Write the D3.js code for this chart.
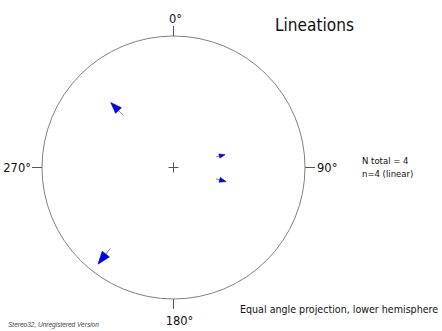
<!DOCTYPE html>
<html><head><meta charset="utf-8">
<script src="https://cdn.jsdelivr.net/npm/d3@7"></script>
<style>body{margin:0;background:#fff;}svg{display:block;}</style>
</head><body>
<svg id="c" width="442" height="331"></svg>
<script>
// ---- data ----
const trend = [316, 76, 105, 218];        // lineation trend (deg)
const plunge = [32, 53, 53, 14];          // plunge at arrow tail (deg)
const tipPlunge = [21, 46, 45, 4];        // plunge at arrow tip (deg)
const dirAngles = [0, 90, 180, 270];
const dirLabels = ["0°", "90°", "180°", "270°"];
const title = "Lineations";
const statLines = ["N total = 4", "n=4 (linear)"];
const footer = "Equal angle projection, lower hemisphere";
const credit = "Stereo32, Unregistered Version";

// ---- layout ----
const cx = 173.5, cy = 167.5, R = 131.5;
const svg = d3.select("#c");
const rScale = d3.scaleLinear().domain([0, 1]).range([0, R]);
const toRad = Math.PI / 180;
function proj(t, p) {
  const r = rScale(Math.tan((90 - p) / 2 * toRad));
  return [cx + r * Math.sin(t * toRad), cy - r * Math.cos(t * toRad)];
}
const font = "'DejaVu Sans', Verdana, sans-serif";

// primitive circle
svg.append("circle").attr("cx", cx).attr("cy", cy).attr("r", R)
  .attr("fill", "none").attr("stroke", "#808080").attr("stroke-width", 1);

// ticks + labels
const tickLen = 10;
dirAngles.forEach((a, i) => {
  const s = Math.sin(a * toRad), c = -Math.cos(a * toRad);
  svg.append("line")
    .attr("x1", cx + R * s).attr("y1", cy + R * c)
    .attr("x2", cx + (R + tickLen) * s).attr("y2", cy + (R + tickLen) * c)
    .attr("stroke", "#555").attr("stroke-width", 1);
});
const lbl = svg.append("g").attr("font-family", font).attr("font-size", 11.5).attr("fill", "#111");
lbl.append("text").attr("x", cx + 2).attr("y", cy - R - 13).attr("text-anchor", "middle").text(dirLabels[0]);
lbl.append("text").attr("x", cx + R + tickLen + 2).attr("y", cy + 4).attr("text-anchor", "start").text(dirLabels[1]);
lbl.append("text").attr("x", cx + 6).attr("y", cy + R + 26).attr("text-anchor", "middle").text(dirLabels[2]);
lbl.append("text").attr("x", cx - R - tickLen - 1).attr("y", cy + 4).attr("text-anchor", "end").text(dirLabels[3]);

// centre cross
svg.append("path").attr("d", `M${cx-5},${cy}H${cx+5}M${cx},${cy-5}V${cy+5}`)
  .attr("stroke", "#555").attr("stroke-width", 1);

// lineation arrows
const arrows = svg.append("g");
trend.forEach((t, i) => {
  const a = proj(t, plunge[i]);
  const b = proj(t, tipPlunge[i]);
  const dx = b[0] - a[0], dy = b[1] - a[1];
  const L = Math.hypot(dx, dy);
  const ux = dx / L, uy = dy / L;
  const hl = 0.64 * L, hw = 0.36 * hl;
  const bx = b[0] - ux * hl, by = b[1] - uy * hl;
  arrows.append("line").attr("x1", a[0]).attr("y1", a[1]).attr("x2", bx).attr("y2", by)
    .attr("stroke", "#888").attr("stroke-width", 1);
  arrows.append("path")
    .attr("d", `M${b[0]},${b[1]}L${bx - uy * hw},${by + ux * hw}L${bx + uy * hw},${by - ux * hw}Z`)
    .attr("fill", "#0000ff").attr("stroke", "#00007a").attr("stroke-width", 0.6);
});

// title
svg.append("text").attr("x", 275).attr("y", 31).attr("font-family", font)
  .attr("font-size", 18).attr("fill", "#111").attr("textLength", 79).attr("lengthAdjust", "spacingAndGlyphs").text(title);

// stats
const st = svg.append("g").attr("font-family", font).attr("font-size", 8.5).attr("fill", "#111");
statLines.forEach((s, i) => st.append("text").attr("x", 362).attr("y", 164 + i * 13).text(s));

// footer
svg.append("text").attr("x", 240).attr("y", 313).attr("font-family", "'DejaVu Sans Condensed', 'DejaVu Sans', sans-serif")
  .attr("font-size", 10.6).attr("fill", "#111").text(footer);

// credit
svg.append("text").attr("x", 8).attr("y", 327).attr("font-family", "'Liberation Sans', Arial, sans-serif")
  .attr("font-size", 6.5).attr("font-style", "italic").attr("fill", "#444").text(credit);
</script>
</body></html>
